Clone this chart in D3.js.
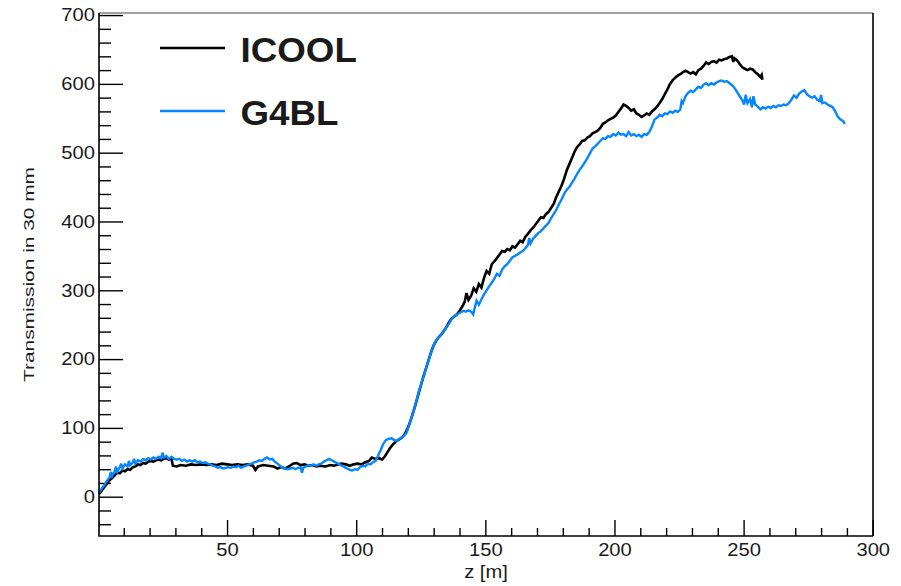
<!DOCTYPE html>
<html>
<head>
<meta charset="utf-8">
<script src="https://cdn.jsdelivr.net/npm/d3@7/dist/d3.min.js"></script>
<style>
  html, body { margin: 0; padding: 0; background: #fff; }
  svg { display: block; }
  text { font-family: "Liberation Sans", Arial, Helvetica, sans-serif; fill: #1a1a1a; }
</style>
</head>
<body>
<svg id="chart" width="901" height="586"></svg>
<script>
// Transmission within 30 mm along the channel, ICOOL vs G4BL ([z in m, count])
const icool = [
  [0.5,4],[1.5,9],[2.5,14],[3.5,19],[4.5,24],[5.5,27],[6.5,31],[7.5,35],[8.5,34],[9.5,38],
  [10.5,37],[11.5,40],[12.5,39],[13.5,43],[14.5,44],[15.5,47],[16.5,46],[17.5,49],[18.5,48],[19.5,51],
  [20.5,52],[21.5,51],[22.5,53],[23.5,54],[24.5,53],[25.5,55],[26.5,56],[27.5,54],[28.5,55],[29,45],
  [30.5,44],[32,46],[34,45],[36,47],[38,46],[40,47],[42,46],[44,47],[46,46],[48,48],
  [50,47],[52,46],[54,47],[56,46],[58,47],[60,45],[61,39],[62,44],[64,46],[66,45],
  [68,44],[69.5,41],[71,43],[72.5,41],[74,44],[75.5,48],[77,49],[78.5,46],[80,47],[81.5,45],
  [83,46],[84.5,44],[86,45],[88,44],[90,46],[91.5,45],[93,47],[94.5,48],[96,47],[97.5,45],
  [99,47],[100.5,48],[102,47],[103.5,50],[105,52],[106,57],[107.5,55],[109,56],[110,54],[111,58],
  [112,64],[113,70],[114,75],[115,79],[116,82],[117,84],[118,87],[119,92],[120,100],[121,110],
  [122,122],[123,134],[124,148],[125,161],[126,174],[127,186],[128,198],[129,210],[130,220],[131,227],
  [132,232],[133,236],[134,241],[135,247],[136,254],[137,259],[138,262],[139,265],[140,270],[141,276],
  [142,283],[142.7,296],[143.5,286],[144.5,292],[145.5,303],[146.5,298],[147.5,309],[148.5,304],[149.5,318],[150.5,328],
  [151.5,324],[152.5,338],[153.5,342],[154.5,347],[155.5,352],[156.5,357],[157.5,356],[158.5,360],[159.5,358],[160.5,364],
  [161.5,362],[162.5,367],[163.5,372],[164.5,370],[165.5,378],[166.5,382],[167.5,387],[168.5,391],[169.5,396],[170.5,401],
  [171.5,406],[172.5,405],[173.5,411],[174.5,414],[175.5,420],[176.5,426],[177.5,436],[178.5,444],[179.5,452],[180.5,462],
  [181.5,474],[182.5,483],[183.5,492],[184.5,501],[185.5,508],[186.5,512],[187.5,517],[188.5,518],[189.5,522],[190.5,524],
  [191.5,528],[192.5,530],[193.5,532],[194.5,536],[195.5,542],[196.5,544],[197.5,547],[198.5,549],[199.5,551],[200.5,554],
  [201.5,559],[202.5,564],[203.5,570],[204.5,568],[205.5,565],[206.5,561],[207.5,563],[208.5,557],[209.5,555],[210.5,552],
  [211.5,554],[212.5,557],[213.5,555],[214.5,560],[215.5,563],[216.5,567],[217.5,572],[218.5,578],[219.5,585],[220.5,592],
  [221.5,600],[222.5,605],[223.5,609],[224.5,612],[225.5,614],[226.5,617],[227.5,619],[228.5,617],[229.5,615],[230.5,617],
  [231.5,614],[232.5,620],[233.5,622],[234.5,626],[235.5,631],[236.5,629],[237.5,632],[238.5,633],[239.5,631],[240.5,635],
  [241.5,634],[242.5,636],[243.5,637],[244.5,639],[245.5,640],[246,632],[246.5,637],[247.5,634],[248.5,629],[249.5,624],
  [250.5,622],[251.5,620],[252.5,622],[253.5,621],[254.5,617],[255.5,614],[256.5,610],[257,613],[257.3,606]
];

const g4bl = [
  [0.5,6],[1.5,12],[2.5,17],[3.5,23],[4.5,28],[5,36],[5.5,30],[6.5,37],[7,44],[7.5,36],
  [8.5,43],[9,48],[9.5,41],[10.5,47],[11.5,44],[12,52],[12.5,46],[13.5,50],[14,55],[14.5,48],
  [15.5,53],[16.5,51],[17.5,55],[18.5,53],[19.5,56],[20.5,54],[21.5,57],[22.5,55],[23.5,58],[24.5,56],
  [25,64],[25.5,57],[26.5,59],[27.5,55],[28.5,58],[29.5,55],[30.5,54],[31.5,55],[32.5,52],[33.5,54],
  [34.5,51],[35.5,53],[36.5,51],[37.5,53],[38.5,50],[39.5,51],[40.5,49],[41.5,50],[42.5,48],[43.5,47],
  [44.5,45],[45.5,44],[46.5,42],[47.5,43],[48.5,41],[49.5,42],[50.5,43],[51.5,42],[52.5,44],[53.5,43],
  [54.5,45],[55.5,42],[56.5,44],[57.5,45],[58.5,47],[59.5,48],[60.5,50],[61.5,51],[62.5,53],[63.5,52],
  [64.5,55],[65.5,57],[66.5,54],[67.5,55],[68.5,51],[69.5,48],[70.5,45],[71.5,42],[72.5,41],[73.5,40],
  [74.5,41],[75.5,42],[76.5,40],[77.5,42],[78.5,43],[79,35],[79.5,42],[80.5,44],[81.5,46],[82.5,45],
  [83.5,47],[84.5,45],[85.5,47],[86.5,48],[87.5,51],[88.5,53],[89.5,55],[90.5,53],[91.5,51],[92.5,49],
  [93.5,47],[94.5,45],[95.5,43],[96.5,41],[97.5,39],[98.5,38],[99.5,40],[100.5,39],[101.5,43],[102.5,45],
  [103.5,44],[104.5,48],[105.5,47],[106.5,50],[107.5,52],[108.5,60],[109.5,68],[110.5,77],[111.5,82],[112.5,84],
  [113.5,85],[114.5,83],[115.5,81],[116.5,83],[117.5,86],[118.5,88],[119.5,93],[120.5,104],[121.5,116],[122.5,128],
  [123.5,142],[124.5,156],[125.5,168],[126.5,180],[127.5,192],[128.5,204],[129.5,215],[130.5,224],[131.5,230],[132.5,234],
  [133.5,239],[134.5,244],[135.5,249],[136.5,255],[137.5,261],[138.5,264],[139.5,266],[140.5,268],[141.5,270],[142.5,269],
  [143.5,271],[144.5,269],[145.3,265],[146,276],[146.6,285],[147.5,279],[148.5,287],[149.5,294],[150.5,300],[151.5,306],
  [152.5,311],[153.5,317],[154.5,324],[155.5,321],[156.5,330],[157.5,335],[158.5,338],[159.5,343],[160.5,348],[161.5,350],
  [162.5,352],[163.5,355],[164.5,357],[165.5,361],[166.5,366],[167,376],[167.5,368],[168.5,375],[169.5,379],[170.5,383],
  [171.5,386],[172.5,390],[173.5,394],[174.5,398],[175.5,405],[176.5,411],[177.5,417],[178.5,425],[179.5,432],[180.5,440],
  [181.5,446],[182.5,450],[183.5,456],[184.5,462],[185.5,469],[186.5,475],[187.5,480],[188.5,486],[189.5,492],[190.5,499],
  [191.5,506],[192.5,509],[193.5,513],[194.5,517],[195.5,521],[196.5,520],[197.5,524],[198.5,523],[199.5,527],[200.5,525],
  [201.5,529],[202.5,526],[203.5,527],[204.5,524],[205.5,530],[206.5,525],[207.5,527],[208.5,524],[209.5,526],[210.5,523],
  [211.5,527],[212.5,526],[213.5,530],[214.5,538],[215.5,548],[216.5,551],[217.5,555],[218.5,553],[219.5,557],[220.5,556],
  [221.5,560],[222.5,558],[223.5,561],[224.5,559],[225.5,563],[226,575],[226.5,572],[227.5,582],[228.5,587],[229.5,590],
  [230.5,588],[231.5,592],[232.5,596],[233.5,594],[234.5,599],[235.5,601],[236.5,598],[237.5,601],[238.5,599],[239.5,602],
  [240.5,604],[241.5,605],[242.5,603],[243.5,604],[244.5,601],[245.5,598],[246.5,594],[247.5,588],[248.5,582],[249.5,576],
  [250.2,570],[250.8,584],[251.5,572],[252.5,578],[253.2,566],[253.8,582],[254.5,570],[255.5,567],[256.5,563],[257.5,566],
  [258.5,564],[259.5,567],[260.5,565],[261.5,568],[262.5,566],[263.5,569],[264.5,568],[265.5,570],[266.5,569],[267.5,572],
  [268.5,577],[269.5,583],[270.5,580],[271.5,586],[272.5,589],[273.5,591],[274.5,585],[275.5,582],[276.5,580],[277.5,582],
  [278.5,577],[279.5,575],[280,584],[280.5,572],[281.5,573],[282.5,570],[283.5,568],[284.5,566],[285.5,560],[286.5,552],
  [287.5,548],[288.5,546],[289.2,542]
];

const seriesNames = ["ICOOL", "G4BL"];
const seriesColors = ["#000000", "#0586ff"];

const xMajorTicks = [50, 100, 150, 200, 250, 300];
const yMajorTicks = [0, 100, 200, 300, 400, 500, 600, 700];
const xTitle = "z [m]";
const yTitle = "Transmission in 30 mm";

// Frame geometry
const L = 99, R = 873, T = 13, B = 536;

const svg = d3.select("#chart");

const x = d3.scaleLinear().domain([0.42, 300.1]).range([L, R]);
const y = d3.scaleLinear().domain([-57.1, 703]).range([B, T]);

const xMinor = d3.range(10, 300, 10).filter(v => v % 50 !== 0);
const yMinor = d3.range(-40, 701, 20).filter(v => v % 100 !== 0);

// Minor ticks
svg.append("g").attr("transform", `translate(0,${B})`)
  .call(d3.axisBottom(x).tickValues(xMinor).tickSize(-8).tickSizeOuter(0).tickFormat(""))
  .call(g => g.select(".domain").remove());
svg.append("g").attr("transform", `translate(${L},0)`)
  .call(d3.axisLeft(y).tickValues(yMinor).tickSize(-12).tickSizeOuter(0).tickFormat(""))
  .call(g => g.select(".domain").remove());

// Major ticks with labels
svg.append("g").attr("transform", `translate(0,${B})`)
  .call(d3.axisBottom(x).tickValues(xMajorTicks).tickSize(-16).tickSizeOuter(0).tickPadding(7).tickFormat(d3.format("d")))
  .call(g => g.select(".domain").remove());
svg.append("g").attr("transform", `translate(${L},0)`)
  .call(d3.axisLeft(y).tickValues(yMajorTicks).tickSize(-24).tickSizeOuter(0).tickPadding(4).tickFormat(d3.format("d")))
  .call(g => g.select(".domain").remove());

svg.selectAll(".tick line").attr("stroke", "#000").attr("stroke-width", 1.4);
svg.selectAll(".tick text").attr("font-size", 18).attr("fill", "#1a1a1a")
  .attr("font-family", "'Liberation Sans', Arial, Helvetica, sans-serif")
  .classed("wide", true);

// Curves (G4BL drawn over ICOOL)
const line = d3.line().x(d => x(d[0])).y(d => y(d[1]));
const plot = svg.append("g");
[icool, g4bl].forEach((data, i) => {
  plot.append("path")
    .datum(data)
    .attr("d", line)
    .attr("fill", "none")
    .attr("stroke", seriesColors[i])
    .attr("stroke-width", i === 0 ? 2.6 : 2.4)
    .attr("stroke-linejoin", "miter")
    .attr("stroke-miterlimit", 3);
});

// Frame
svg.append("path")
  .attr("d", `M${L},${T}H${R}`)
  .attr("stroke", "#444").attr("stroke-width", 1.2).attr("fill", "none");
svg.append("path")
  .attr("d", `M${R},${T}V${B}`)
  .attr("stroke", "#000").attr("stroke-width", 1.6).attr("fill", "none");
svg.append("path")
  .attr("d", `M${L},${T}V${B}H${R}`)
  .attr("stroke", "#000").attr("stroke-width", 1.6).attr("fill", "none");

// Axis titles
svg.append("text")
  .attr("class", "wide")
  .attr("x", (L + R) / 2).attr("y", 578)
  .attr("text-anchor", "middle")
  .attr("font-size", 18)
  .text(xTitle);

svg.append("text")
  .attr("transform", `translate(33.5,${(T + B) / 2}) rotate(-90)`)
  .attr("text-anchor", "middle")
  .attr("font-size", 15.5)
  .attr("textLength", 215)
  .attr("lengthAdjust", "spacingAndGlyphs")
  .text(yTitle);

// Legend
const legendY = [48, 111];
seriesNames.forEach((name, i) => {
  svg.append("line")
    .attr("x1", 160).attr("x2", 225)
    .attr("y1", legendY[i]).attr("y2", legendY[i])
    .attr("stroke", seriesColors[i]).attr("stroke-width", 2.6);
  svg.append("text")
    .attr("class", "legend")
    .attr("x", 240.5).attr("y", legendY[i] + 14)
    .attr("font-size", 35)
    .attr("font-weight", "bold")
    .attr("fill", "#000")
    .text(name);
});

// Slightly widen the glyphs horizontally
function widen(sel, k) {
  sel.each(function() {
    const len = this.getComputedTextLength();
    d3.select(this).attr("textLength", len * k).attr("lengthAdjust", "spacingAndGlyphs");
  });
}
widen(svg.selectAll("text.wide"), 1.12);
widen(svg.selectAll("text.legend"), 1.05);
</script>
</body>
</html>
